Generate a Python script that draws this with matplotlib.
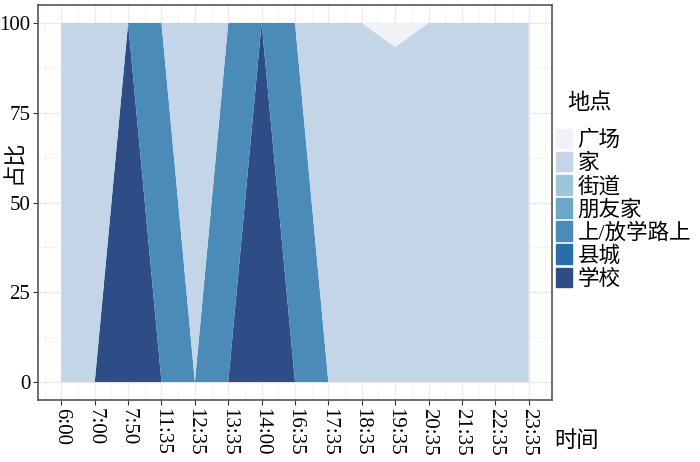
import matplotlib
matplotlib.use("Agg")
import matplotlib.pyplot as plt
from matplotlib.patches import Patch
import numpy as np

plt.rcParams['font.family'] = ['Liberation Serif', 'Noto Sans CJK SC']

# 数据
times = ['6:00', '7:00', '7:50', '11:35', '12:35', '13:35', '14:00', '16:35',
         '17:35', '18:35', '19:35', '20:35', '21:35', '22:35', '23:35']
places = ['广场', '家', '街道', '朋友家', '上/放学路上', '县城', '学校']
guangchang = [0, 0, 0, 0, 0, 0, 0, 0, 0, 0, 6.7, 0, 0, 0, 0]
jia = [100, 100, 0, 0, 100, 0, 0, 0, 100, 100, 93.3, 100, 100, 100, 100]
jiedao = [0] * 15
pengyoujia = [0] * 15
shangxue = [0, 0, 0, 100, 0, 100, 0, 100, 0, 0, 0, 0, 0, 0, 0]
xiancheng = [0] * 15
xuexiao = [0, 0, 100, 0, 0, 0, 100, 0, 0, 0, 0, 0, 0, 0, 0]
colors = ['#F0F2F7', '#C3D5E6', '#9DC6D9', '#6AA8CB', '#4A8BB8', '#2A6EA8', '#2E4C86']

x = np.arange(1, len(times) + 1)

fig = plt.figure(figsize=(7, 4.62), dpi=100)
ax = fig.add_axes([38 / 700, 1 - 400 / 462, (552 - 38) / 700, (400 - 5) / 462])

# 堆叠面积图（自下而上：学校 ... 广场）
layers = [xuexiao, xiancheng, shangxue, pengyoujia, jiedao, jia, guangchang]
ax.stackplot(x, layers, colors=colors[::-1], linewidth=0)

ax.set_xlim(0.3, 15.7)
ax.set_ylim(-5, 105)
ax.set_xticks(x)
ax.set_xticklabels(times, rotation=270, fontsize=15)
ax.set_yticks([0, 25, 50, 75, 100])
ax.set_yticklabels(['0', '25', '50', '75', '100'], fontsize=15)
ax.set_xticks(np.arange(0.5, 16, 1), minor=True)
ax.set_yticks([12.5, 37.5, 62.5, 87.5], minor=True)
ax.grid(which='major', color='#EBEBEB', linewidth=1.0)
ax.grid(which='minor', color='#F2F2F2', linewidth=0.6)
ax.set_axisbelow(True)
ax.tick_params(which='major', length=3.5, width=0.8, color='#333333', pad=2)
ax.tick_params(which='minor', length=0)
for s in ax.spines.values():
    s.set_color('#555555')
    s.set_linewidth(1.2)

fig.text(15 / 700, 1 - 162 / 462, '占比', rotation=90, fontsize=16,
         ha='center', va='center')
fig.text(576 / 700, 1 - 442 / 462, '时间', fontsize=16, ha='center', va='center')

# 图例
fig.text(590 / 700, 1 - 104 / 462, '地点', fontsize=16, ha='center', va='center')
handles = [Patch(facecolor=c, edgecolor=c) for c in colors]
leg = fig.legend(handles, places, loc='upper left',
                 bbox_to_anchor=(541 / 700, 1 - 114 / 462), frameon=False,
                 fontsize=15.5,
                 handlelength=0.75, handleheight=1.0, handletextpad=0.25,
                 labelspacing=0.05, borderpad=0.2)

fig.savefig('out.png', dpi=100)
